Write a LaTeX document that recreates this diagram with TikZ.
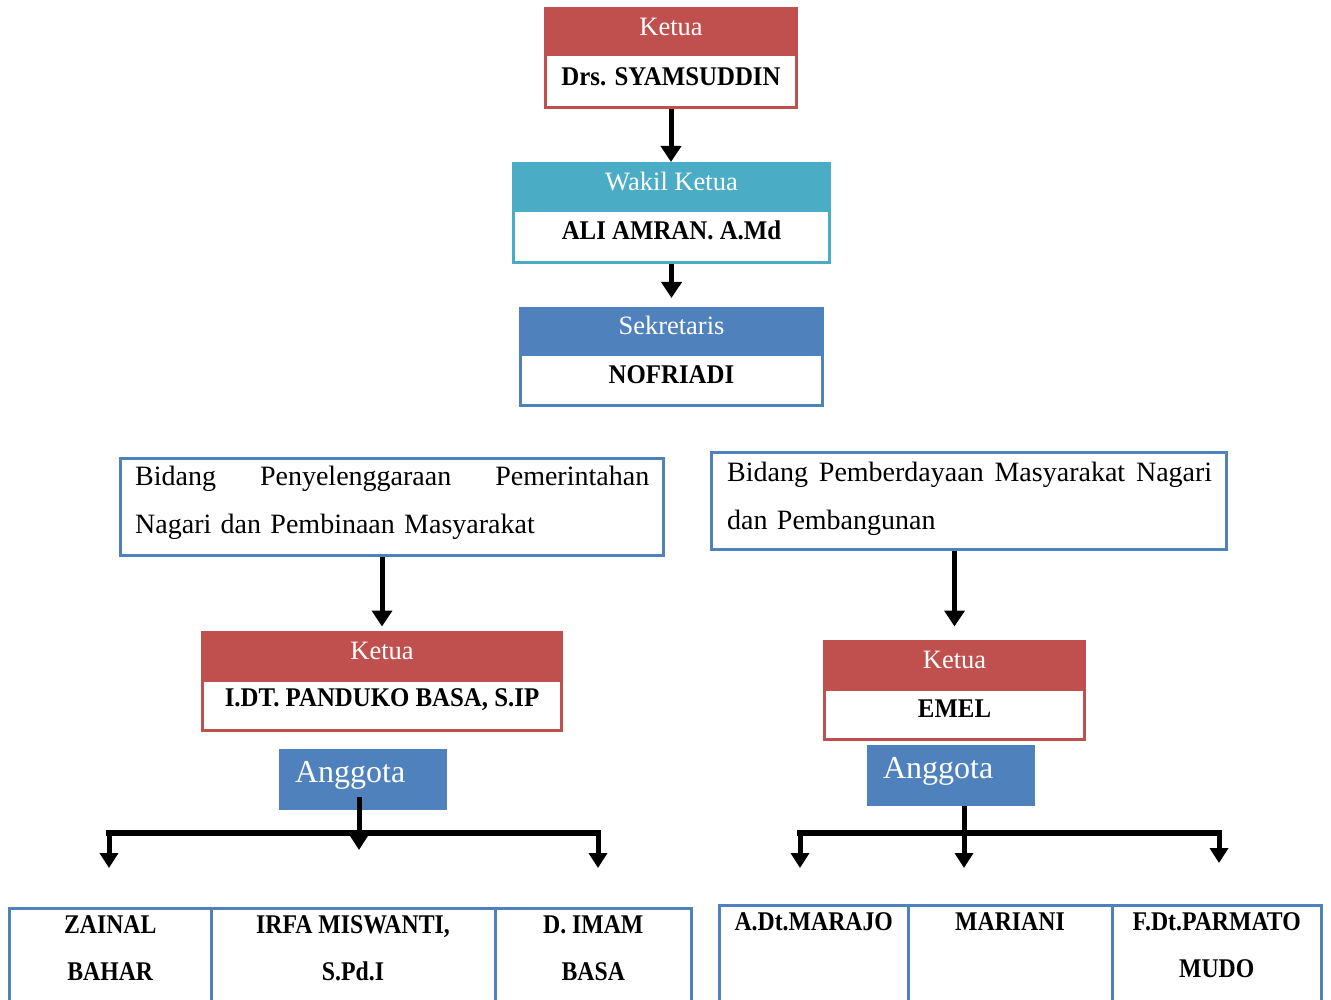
\documentclass[tikz,border=0pt]{standalone}
\usepackage{fontspec}
\setmainfont{Liberation Serif}
\newfontfamily\namefont[FakeStretch=0.92]{Liberation Serif}
\newfontfamily\cellfont[FakeStretch=0.88]{Liberation Serif}
\usepackage{xcolor}
\usetikzlibrary{arrows.meta,calc,positioning}

\definecolor{kred}{RGB}{192,80,77}
\definecolor{kteal}{RGB}{75,172,198}
\definecolor{kblue}{RGB}{79,129,189}

\tikzset{
  offbox/.style={line width=3pt, fill=white, inner sep=0pt},
  headtxt/.style={text=white, inner sep=0pt, font=\fontsize{26.5}{30}\selectfont},
  nametxt/.style={inner sep=0pt, font=\namefont\bfseries\fontsize{27}{30}\selectfont},
  bidang/.style={draw=kblue, line width=3pt, inner sep=0pt, minimum height=97pt},
  bidangtxt/.style={inner sep=0pt, anchor=north west, align=left, font=\fontsize{28}{48}\selectfont},
  anggota/.style={fill=kblue, inner xsep=16pt, inner ysep=0pt, minimum height=61pt, text width=136pt,
    align=left, text=white, font=\fontsize{32}{36}\selectfont, text height=16pt, text depth=10pt},
  cell/.style={draw=kblue, line width=3pt, inner sep=0pt, minimum height=97pt},
  celltxt/.style={inner sep=0pt, anchor=north, align=center, font=\cellfont\bfseries\fontsize{27}{47}\selectfont},
  bigarrow/.style={line width=5pt, -{Triangle[length=16pt,width=20pt]}},
  brarrow/.style={line width=5pt, -{Triangle[length=15pt,width=18pt]}},
  barline/.style={line width=6pt, line cap=rect},
}

\begin{document}
\begin{tikzpicture}[x=1pt,y=1pt,yscale=-1,xscale=1]
\useasboundingbox (0,0) rectangle (1331,1000);

%Shape: Ketua
\node[offbox, draw=kred, minimum width=251pt, minimum height=99pt] (ketua) at (671,58) {};
\fill[kred] (ketua.north west) rectangle ($(ketua.north east)+(0,49.5)$);
% Text Node
\node[headtxt] (ketuaT) at ($(ketua.north)+(0,20)$) {Ketua};
% Text Node
\node[nametxt] (ketuaN) at ($(ketua.north)+(0,69.5)$) {Drs. SYAMSUDDIN};

%Shape: Wakil Ketua
\node[offbox, draw=kteal, minimum width=316pt, minimum height=99pt] (wakil) at (671.5,213) {};
\fill[kteal] (wakil.north west) rectangle ($(wakil.north east)+(0,50.5)$);
% Text Node
\node[headtxt] (wakilT) at ($(wakil.north)+(0,19.5)$) {Wakil Ketua};
% Text Node
\node[nametxt] (wakilN) at ($(wakil.north)+(0,68.5)$) {ALI AMRAN. A.Md};

%Shape: Sekretaris
\node[offbox, draw=kblue, minimum width=302pt, minimum height=97pt] (sekr) at (671.5,357) {};
\fill[kblue] (sekr.north west) rectangle ($(sekr.north east)+(0,49.5)$);
% Text Node
\node[headtxt] (sekrT) at ($(sekr.north)+(0,18.5)$) {Sekretaris};
% Text Node
\node[nametxt] (sekrN) at ($(sekr.north)+(0,67.5)$) {NOFRIADI};

%Straight Lines
\draw[bigarrow] (ketua.south) -- (ketua.south |- wakil.north);
\draw[bigarrow, shorten >=9pt] (wakil.south) -- (wakil.south |- sekr.north);

%Shape: Bidang boxes
\node[bidang, minimum width=543pt] (bidangL) at (392,507) {};
\node[bidangtxt, text width=514pt] (bidangLT) at (135,466)
  {Bidang\hfill Penyelenggaraan\hfill Pemerintahan\\ Nagari dan Pembinaan Masyarakat};
\node[bidang, minimum width=515pt] (bidangR) at (969,501) {};
\node[bidangtxt, text width=485pt] (bidangRT) at (727,462)
  {Bidang\hfill Pemberdayaan\hfill Masyarakat\hfill Nagari\\ dan Pembangunan};

%Shape: Ketua bidang kiri
\node[offbox, draw=kred, minimum width=359pt, minimum height=98pt] (ketuaL) at (382,681.5) {};
\fill[kred] (ketuaL.north west) rectangle ($(ketuaL.north east)+(0,50.5)$);
% Text Node
\node[headtxt] (ketuaLT) at ($(ketuaL.north)+(0,19.5)$) {Ketua};
% Text Node
\node[nametxt] (ketuaLN) at ($(ketuaL.north)+(0,68.5)$) {I.DT. PANDUKO BASA, S.IP};

%Shape: Ketua bidang kanan
\node[offbox, draw=kred, minimum width=260pt, minimum height=98pt] (ketuaR) at (954.5,690.5) {};
\fill[kred] (ketuaR.north west) rectangle ($(ketuaR.north east)+(0,50.5)$);
% Text Node
\node[headtxt] (ketuaRT) at ($(ketuaR.north)+(0,19.5)$) {Ketua};
% Text Node
\node[nametxt] (ketuaRN) at ($(ketuaR.north)+(0,68.5)$) {EMEL};

%Straight Lines
\draw[bigarrow, shorten >=4.5pt] (bidangL.south -| ketuaL.north) -- (ketuaL.north);
\draw[bigarrow, shorten >=13.5pt] (bidangR.south -| ketuaR.north) -- (ketuaR.north);

%Shape: Anggota
\node[anggota] (anggotaL) at (363,779.5) {Anggota};
\node[anggota] (anggotaR) at (951,775.5) {Anggota};

%Branches left
\coordinate (forkL) at (359,833);
\coordinate (memL1) at (109,868);
\coordinate (memL2) at (359,850);
\coordinate (memL3) at (598,868);
\draw[barline] (memL1 |- forkL) -- (memL3 |- forkL);
\draw[brarrow] ($(anggotaL.south -| forkL)+(0,-13)$) -- (memL2);
\draw[brarrow] (memL1 |- forkL) -- (memL1);
\draw[brarrow] (memL3 |- forkL) -- (memL3);

%Branches right
\coordinate (forkR) at (964,833);
\coordinate (memR1) at (800,868);
\coordinate (memR2) at (964,868);
\coordinate (memR3) at (1219,863);
\draw[barline] (memR1 |- forkR) -- (memR3 |- forkR);
\draw[brarrow] (anggotaR.south -| forkR) -- (memR2);
\draw[brarrow] (memR1 |- forkR) -- (memR1);
\draw[brarrow] (memR3 |- forkR) -- (memR3);

%Table left
\node[cell, minimum width=201.5pt] (zainal) at (110.25,957) {};
\node[cell, minimum width=284pt] (irfa) at (353,957) {};
\node[cell, minimum width=196.5pt] (imam) at (593.25,957) {};
% Text Node
\node[celltxt] (zainalT) at ($(zainal.north)+(0,8)$) {ZAINAL\\BAHAR};
\node[celltxt] (irfaT) at ($(irfa.north)+(0,8)$) {IRFA MISWANTI,\\S.Pd.I};
\node[celltxt] (imamT) at ($(imam.north)+(0,8)$) {D. IMAM\\BASA};

%Table right
\node[cell, minimum width=188.5pt] (marajo) at (813.75,954) {};
\node[cell, minimum width=204pt] (mariani) at (1010,954) {};
\node[cell, minimum width=209.5pt] (parmato) at (1216.75,954) {};
% Text Node
\node[celltxt] (marajoT) at ($(marajo.north)+(0,8)$) {A.Dt.MARAJO};
\node[celltxt] (marianiT) at ($(mariani.north)+(0,8)$) {MARIANI};
\node[celltxt] (parmatoT) at ($(parmato.north)+(0,8)$) {F.Dt.PARMATO\\MUDO};

\end{tikzpicture}
\end{document}
